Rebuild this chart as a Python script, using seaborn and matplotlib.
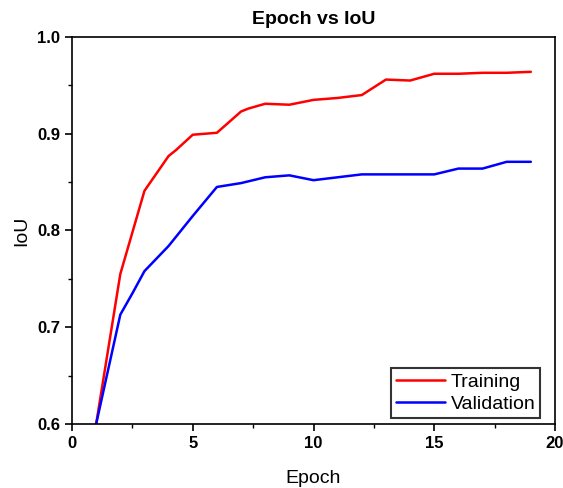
import numpy as np
import pandas as pd
import matplotlib
matplotlib.use("Agg")
import matplotlib.pyplot as plt
import seaborn as sns
from matplotlib.ticker import MultipleLocator

train_epoch = [1, 2, 3, 3.5, 4, 4.3, 5, 6, 7, 7.3, 8, 9, 10, 11, 12, 12.5, 13, 14, 15, 16, 17, 18, 19]
train_iou = [0.600, 0.755, 0.841, 0.859, 0.877, 0.883, 0.899, 0.901, 0.923, 0.926, 0.931, 0.930,
             0.935, 0.937, 0.940, 0.948, 0.956, 0.955, 0.962, 0.962, 0.963, 0.963, 0.964]

val_epoch = [1, 2, 2.5, 3, 3.5, 4, 5, 6, 7, 8, 9, 10, 11, 12, 13, 14, 15, 16, 17, 18, 19]
val_iou = [0.600, 0.713, 0.735, 0.758, 0.771, 0.784, 0.815, 0.845, 0.849, 0.855, 0.857, 0.852,
           0.855, 0.858, 0.858, 0.858, 0.858, 0.864, 0.864, 0.871, 0.871]

df = pd.concat([
    pd.DataFrame({"Epoch": train_epoch, "IoU": train_iou, "Series": "Training"}),
    pd.DataFrame({"Epoch": val_epoch, "IoU": val_iou, "Series": "Validation"}),
])

sns.set_theme(style="ticks")
plt.rcParams['font.family'] = ['Liberation Sans', 'DejaVu Sans']
plt.rcParams['text.color'] = 'black'
plt.rcParams['axes.labelcolor'] = 'black'

fig = plt.figure(figsize=(5.63, 4.88), dpi=100)
ax = fig.add_axes([72/563, 64/488, (555-72)/563, (424-37)/488])

sns.lineplot(data=df, x="Epoch", y="IoU", hue="Series", palette={"Training": "#ff0000", "Validation": "#0000ff"},
             linewidth=1.8, ax=ax, sort=False, estimator=None)

ax.set_xlim(0, 20)
ax.set_ylim(0.6, 1.0)
ax.xaxis.set_major_locator(MultipleLocator(5))
ax.xaxis.set_minor_locator(MultipleLocator(2.5))
ax.yaxis.set_major_locator(MultipleLocator(0.1))
ax.yaxis.set_minor_locator(MultipleLocator(0.05))
ax.yaxis.set_major_formatter(matplotlib.ticker.FormatStrFormatter('%.1f'))
ax.tick_params(which='major', direction='out', length=5, width=1.2, labelsize=12, colors='black')
ax.tick_params(which='minor', direction='out', length=3, width=1.0, colors='black')
for lab in ax.get_xticklabels() + ax.get_yticklabels():
    lab.set_fontweight('bold')
for s in ax.spines.values():
    s.set_linewidth(1.2)
    s.set_color('black')

ax.set_xlabel("Epoch", fontsize=14, labelpad=14, color='black')
ax.set_ylabel("IoU", fontsize=14, labelpad=5, color='black')
ax.set_title("Epoch vs IoU", fontsize=14, fontweight='bold', pad=9, color='black')

leg = ax.legend(loc='lower right', fontsize=14, frameon=True, fancybox=False, edgecolor='black',
                handlelength=2.5, handletextpad=0.3, borderpad=0.25, labelspacing=0.25,
                borderaxespad=0, bbox_to_anchor=(0.969, 0.0155))
leg.get_frame().set_linewidth(1.5)
for t in leg.get_texts():
    t.set_color('black')

fig.savefig("out.png", dpi=100)
